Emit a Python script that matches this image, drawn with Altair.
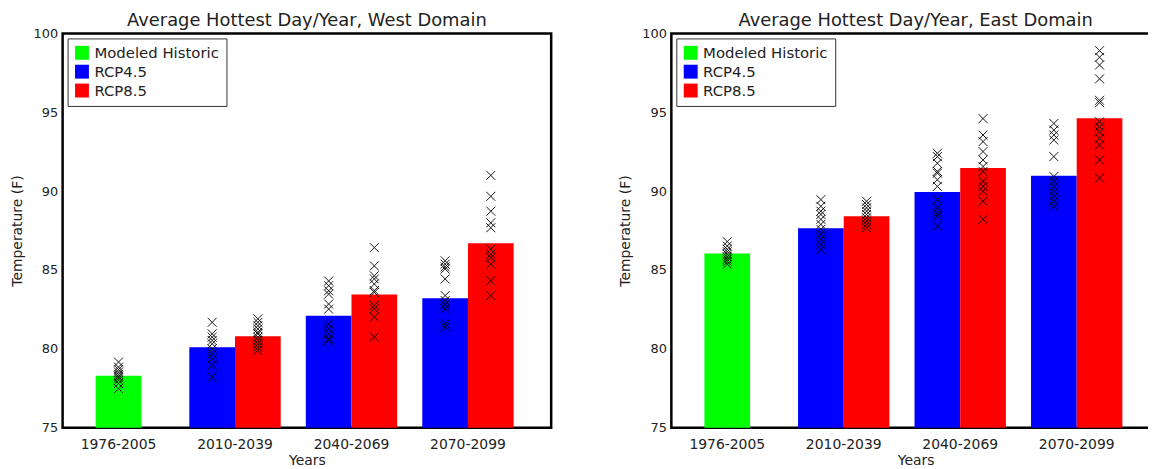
import altair as alt
import pandas as pd

periods = ["1976-2005", "2010-2039", "2040-2069", "2070-2099"]
scenarios = ["Modeled Historic", "RCP4.5", "RCP8.5"]
colors = ["#00ff00", "#0000ff", "#ff0000"]

# West domain
west_hist_mean = 78.3
west_rcp45_mean = [80.1, 82.1, 83.2]
west_rcp85_mean = [80.8, 83.45, 86.7]
west_hist_models = [79.16, 78.84, 78.68, 78.53, 78.38, 78.26, 78.15, 78.0, 77.8, 77.48]
west_rcp45_models = [
    [81.68, 80.95, 80.74, 80.53, 80.32, 80.0, 79.68, 79.37, 78.95, 78.21],
    [84.3, 84.0, 83.68, 83.47, 82.84, 82.52, 81.58, 81.26, 80.95, 80.63, 80.53],
    [85.58, 85.37, 85.2, 85.06, 84.43, 83.38, 83.06, 82.81, 82.54, 81.59, 81.38],
]
west_rcp85_models = [
    [81.9, 81.68, 81.47, 81.26, 81.05, 80.95, 80.74, 80.53, 80.32, 80.1, 79.9],
    [86.42, 85.26, 84.63, 84.43, 84.11, 83.69, 83.58, 82.75, 82.54, 82.01, 80.75],
    [91.0, 89.67, 88.73, 87.99, 87.68, 86.32, 86.0, 85.79, 85.37, 84.32, 83.38],
]

# East domain
east_hist_mean = 86.04
east_rcp45_mean = [87.64, 89.94, 90.97]
east_rcp85_mean = [88.41, 91.46, 94.63]
east_hist_models = [86.8, 86.52, 86.31, 86.16, 86.0, 85.83, 85.68, 85.54, 85.37]
east_rcp45_models = [
    [89.46, 89.04, 88.73, 88.52, 88.21, 87.89, 87.58, 87.26, 86.95, 86.63, 86.31],
    [92.4, 92.19, 91.77, 91.25, 91.14, 90.72, 90.3, 89.46, 88.94, 88.62, 88.41, 87.78],
    [94.29, 93.87, 93.56, 93.24, 92.19, 90.93, 90.62, 90.3, 89.99, 89.67, 89.36, 89.04],
]
east_rcp85_models = [
    [89.36, 89.15, 88.94, 88.73, 88.52, 88.31, 88.1, 87.89, 87.68],
    [94.6, 93.56, 93.14, 92.51, 91.98, 91.56, 91.25, 90.62, 90.3, 89.99, 89.36, 88.21],
    [98.91, 98.49, 98.0, 97.12, 95.76, 95.61, 94.4, 94.08, 93.77, 93.35, 92.93, 91.98, 90.83],
]

FONT = "DejaVu Sans"
TXT = "#222222"
X_SHAPE = "M-1,-1L1,1M1,-1L-1,1"


def panel(title, hist_mean, r45_mean, r85_mean, hist_m, r45_m, r85_m):
    bar_rows = [{"period": periods[0], "scenario": scenarios[0], "value": hist_mean}]
    pt_rows = [{"period": periods[0], "scenario": scenarios[0], "value": v} for v in hist_m]
    for i, p in enumerate(periods[1:]):
        bar_rows.append({"period": p, "scenario": scenarios[1], "value": r45_mean[i]})
        bar_rows.append({"period": p, "scenario": scenarios[2], "value": r85_mean[i]})
        pt_rows += [{"period": p, "scenario": scenarios[1], "value": v} for v in r45_m[i]]
        pt_rows += [{"period": p, "scenario": scenarios[2], "value": v} for v in r85_m[i]]
    bars = pd.DataFrame(bar_rows)
    pts = pd.DataFrame(pt_rows)

    x = alt.X(
        "period:N",
        sort=periods,
        scale=alt.Scale(domain=periods, paddingInner=0.2157, paddingOuter=0.205, align=0.214),
        axis=alt.Axis(labelAngle=0, labelFontSize=14, labelPadding=10, titleFontSize=14,
                      titlePadding=2, ticks=False, domain=False, grid=False,
                      labelFont=FONT, titleFont=FONT, labelColor=TXT, titleColor=TXT,
                      titleFontWeight="normal"),
        title="Years",
    )
    y = alt.Y(
        "value:Q",
        scale=alt.Scale(domain=[75, 100], zero=False, nice=False),
        axis=alt.Axis(values=[75, 80, 85, 90, 95, 100], labelFontSize=13, labelPadding=5,
                      titleFontSize=14, titlePadding=9, ticks=False, domain=False, grid=False,
                      labelFont=FONT, titleFont=FONT, labelColor=TXT, titleColor=TXT,
                      titleFontWeight="normal"),
        title="Temperature (F)",
    )
    color = alt.Color(
        "scenario:N",
        scale=alt.Scale(domain=scenarios, range=colors),
        legend=alt.Legend(
            orient="none", legendX=5, legendY=5, title=None, symbolType="square",
            symbolSize=196, symbolStrokeWidth=0, symbolOpacity=1, labelFontSize=15,
            labelFont=FONT, labelColor=TXT, padding=7, rowPadding=3, labelOffset=5,
            strokeColor="#333333", fillColor="white",
        ),
    )
    xoff = alt.XOffset("scenario:N", scale=alt.Scale(domain=scenarios[1:], paddingInner=0, paddingOuter=0))

    hist_bar = (
        alt.Chart(bars)
        .transform_filter(f"datum.scenario == '{scenarios[0]}'")
        .mark_bar(width=alt.RelativeBandSize(0.5), opacity=1)
        .encode(x=x, y=y, y2=alt.datum(75), color=color)
    )
    rcp_bar = (
        alt.Chart(bars)
        .transform_filter(f"datum.scenario != '{scenarios[0]}'")
        .mark_bar(opacity=1)
        .encode(x=x, xOffset=xoff, y=y, y2=alt.datum(75), color=color)
    )
    hist_pts = (
        alt.Chart(pts)
        .transform_filter(f"datum.scenario == '{scenarios[0]}'")
        .mark_point(shape=X_SHAPE, filled=False, stroke="black", strokeWidth=1, size=81, opacity=0.9)
        .encode(x=x, y=y)
    )
    rcp_pts = (
        alt.Chart(pts)
        .transform_filter(f"datum.scenario != '{scenarios[0]}'")
        .mark_point(shape=X_SHAPE, filled=False, stroke="black", strokeWidth=1, size=81, opacity=0.9)
        .encode(x=x, xOffset=xoff, y=y)
    )
    return alt.layer(hist_bar, rcp_bar, hist_pts, rcp_pts).properties(
        width=492,
        height=397,
        title=alt.TitleParams(title, fontSize=18, fontWeight="normal", font=FONT, color=TXT, offset=-3),
    )


left = panel("Average Hottest Day/Year, West Domain", west_hist_mean, west_rcp45_mean,
             west_rcp85_mean, west_hist_models, west_rcp45_models, west_rcp85_models)
right = panel("Average Hottest Day/Year, East Domain", east_hist_mean, east_rcp45_mean,
              east_rcp85_mean, east_hist_models, east_rcp45_models, east_rcp85_models)

chart = (
    alt.hconcat(left, right, spacing=64)
    .resolve_scale(color="independent")
    .properties(padding={"left": 0, "top": 1, "right": -14, "bottom": 0}, background="white")
    .configure_view(stroke="black", strokeWidth=2.5)
)

chart.save("out.html", embed_options={"renderer": "svg", "actions": False})
